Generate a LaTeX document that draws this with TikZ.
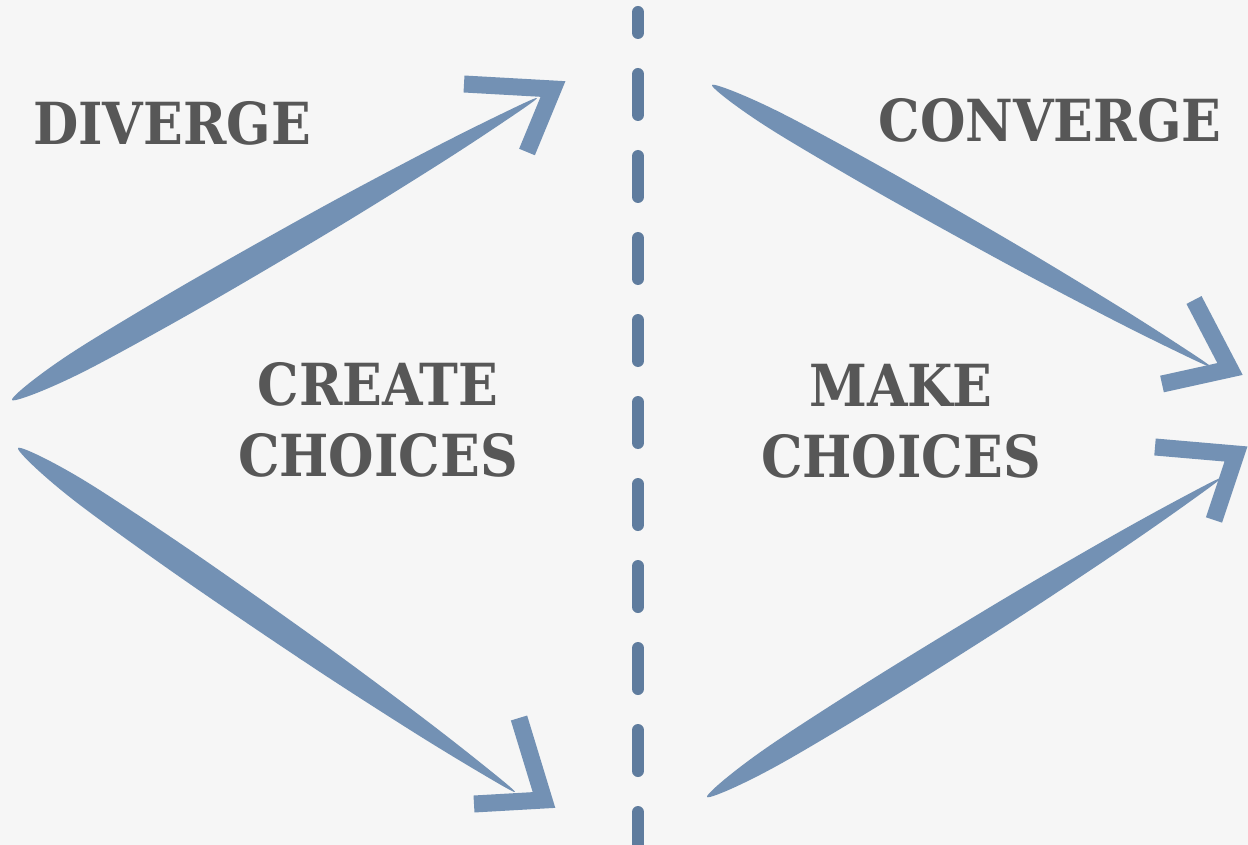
\documentclass[tikz,border=0pt]{standalone}
\usepackage{fontspec}
\usepackage{tikz}
\newfontfamily\labelfont{DejaVu Serif Condensed Bold}
\definecolor{paper}{HTML}{F6F6F6}
\definecolor{stroke}{HTML}{7391B4}
\definecolor{divline}{HTML}{5F7C9E}
\definecolor{ink}{HTML}{575757}
\tikzset{
brush/.style={fill=stroke},
barb/.style={draw=stroke, line width=17pt, line join=miter},
divider/.style={draw=divline, line width=12pt, line cap=round, dash pattern=on 41pt off 41pt, dash phase=20pt},
heading/.style={text=ink, font={\labelfont\fontsize{58}{71}\selectfont}, inner sep=0pt, align=center}
}
% tapered shaft from #1 to #2, half width #3
\newcommand\shaft[3]{%
\pgfpointdiff{\pgfpointanchor{#1}{center}}{\pgfpointanchor{#2}{center}}
\pgfgetlastxy\dx\dy
\pgfmathsetmacro\ang{atan2(\dy,\dx)}
\pgfmathsetmacro\len{veclen(\dx,\dy)}
\begin{scope}[shift={(#1)}, rotate=\ang, x=\len pt, y=#3]
\fill[brush] plot[smooth cycle, tension=0.55] coordinates {(0,0) (0.05,0.5) (0.15,0.85) (0.35,1) (0.6,0.9) (0.8,0.62) (0.93,0.3) (1,0)
(0.93,-0.3) (0.8,-0.62) (0.6,-0.9) (0.35,-1) (0.15,-0.85) (0.05,-0.5)};
\end{scope}
}

\begin{document}
\begin{tikzpicture}[x=1pt,y=-1pt]
\fill[paper] (0,0) rectangle (1248,845);
\useasboundingbox (0,0) rectangle (1248,845);
% middle line
\coordinate (top) at (638,12);
\coordinate (bottom) at (638,845);
\draw[divider] (top) -- (bottom);
% texts
\node[heading, anchor=base] (diverge) at (172,145) {DIVERGE};
\node[heading, anchor=base] (converge) at (1050,142) {CONVERGE};
\node[heading, anchor=base] (create) at (378,476) {CREATE\\CHOICES};
\node[heading, anchor=base] (make) at (901,477) {MAKE\\CHOICES};
% arrow ends
\coordinate (upstart) at (12,400);
\coordinate (upend) at (537,98);
\coordinate (downstart) at (18,448);
\coordinate (downend) at (515,792);
\coordinate (instart) at (712,85);
\coordinate (inend) at (1211,367);
\coordinate (outstart) at (707,797);
\coordinate (outend) at (1221,478);
% shafts
\shaft{upstart}{upend}{14pt}
\shaft{downstart}{downend}{14pt}
\shaft{instart}{inend}{12pt}
\shaft{outstart}{outend}{13pt}
% heads
\draw[barb] (464,84) -- (553,89) -- (527,152);
\draw[barb] (474,804) -- (544,800) -- (519,718);
\draw[barb] (1194,300) -- (1230,369) -- (1162,384);
\draw[barb] (1155,447) -- (1236,454) -- (1214,520);
\end{tikzpicture}
\end{document}
